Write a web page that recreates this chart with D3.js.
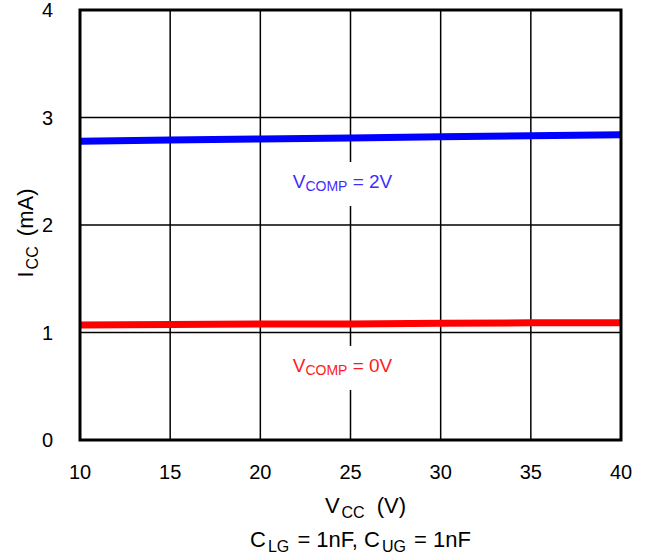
<!DOCTYPE html>
<html>
<head>
<meta charset="utf-8">
<script src="https://cdn.jsdelivr.net/npm/d3@7"></script>
<style>
  body { margin: 0; background: #fff; }
  text { font-family: "Liberation Sans", Arial, sans-serif; }
</style>
</head>
<body>
<script>
// values
var vcc = [10, 15, 20, 25, 30, 35, 40]
var iccComp2 = [2.78, 2.79, 2.80, 2.81, 2.82, 2.83, 2.84]
var iccComp0 = [1.07, 1.075, 1.08, 1.08, 1.085, 1.09, 1.09]
var xTicks = [10, 15, 20, 25, 30, 35, 40]
var yTicks = [0, 1, 2, 3, 4]

var W = 647, H = 559
var margin = {top: 10, right: 26, bottom: 119, left: 80}
var width = W - margin.left - margin.right,
    height = H - margin.top - margin.bottom

var svg = d3.select("body").append("svg")
  .attr("width", W).attr("height", H)

var g = svg.append("g")
  .attr("transform", "translate(" + margin.left + "," + margin.top + ")")

var x = d3.scaleLinear().domain([10, 40]).range([0, width])
var y = d3.scaleLinear().domain([0, 4]).range([height, 0])

// grid
g.append("g").selectAll("line").data(xTicks.slice(1, -1)).join("line")
  .attr("x1", d => x(d)).attr("x2", d => x(d))
  .attr("y1", 0).attr("y2", height)
  .attr("stroke", "#000").attr("stroke-width", 1.5)
g.append("g").selectAll("line").data(yTicks.slice(1, -1)).join("line")
  .attr("x1", 0).attr("x2", width)
  .attr("y1", d => y(d)).attr("y2", d => y(d))
  .attr("stroke", "#000").attr("stroke-width", 1.5)

// label backgrounds cover the grid
var labels = [
  {text: "COMP", val: 2, yv: 2.344, color: "#3f2bff"},
  {text: "COMP", val: 0, yv: 0.633, color: "#ff1a1a"}
]
labels.forEach(function(l) {
  g.append("rect")
    .attr("x", x(25) - 66).attr("y", y(l.yv) - 26)
    .attr("width", 132).attr("height", 44)
    .attr("fill", "#fff")
})

// series
var line = d3.line().x((d, i) => x(vcc[i])).y(d => y(d))
g.append("path").attr("d", line(iccComp2))
  .attr("fill", "none").attr("stroke", "#0000ff").attr("stroke-width", 7)
g.append("path").attr("d", line(iccComp0))
  .attr("fill", "none").attr("stroke", "#ff0000").attr("stroke-width", 7)

labels.forEach(function(l) {
  var t = g.append("text")
    .attr("x", x(25) - 8).attr("y", y(l.yv))
    .attr("text-anchor", "middle")
    .attr("fill", l.color).attr("font-size", 19)
  t.append("tspan").text("V")
  t.append("tspan").attr("font-size", 14).attr("dy", 3).text(l.text)
  t.append("tspan").attr("dy", -3).text(" = " + l.val + "V")
})

// frame
g.append("rect").attr("x", 0).attr("y", 0)
  .attr("width", width).attr("height", height)
  .attr("fill", "none").attr("stroke", "#000").attr("stroke-width", 3)

// tick labels
g.append("g").selectAll("text").data(xTicks).join("text")
  .attr("x", d => x(d)).attr("y", height + 39)
  .attr("text-anchor", "middle").attr("font-size", 20)
  .text(d => d)
g.append("g").selectAll("text").data(yTicks).join("text")
  .attr("x", -27).attr("y", d => y(d) + 7)
  .attr("text-anchor", "end").attr("font-size", 20)
  .text(d => d)

// axis titles
var xt = svg.append("text")
  .attr("x", margin.left + width / 2 + 15).attr("y", 513)
  .attr("text-anchor", "middle").attr("font-size", 22)
xt.append("tspan").text("V")
xt.append("tspan").attr("font-size", 16).attr("dx", 2).attr("dy", 5).text("CC")
xt.append("tspan").attr("dx", 6).attr("dy", -5).text(" (V)")

var st = svg.append("text")
  .attr("x", margin.left + width / 2 + 10).attr("y", 547)
  .attr("text-anchor", "middle").attr("font-size", 22)
st.append("tspan").text("C")
st.append("tspan").attr("font-size", 16).attr("dx", 2).attr("dy", 5).text("LG")
st.append("tspan").attr("dx", 2).attr("dy", -5).text(" = 1nF, C")
st.append("tspan").attr("font-size", 16).attr("dx", 2).attr("dy", 5).text("UG")
st.append("tspan").attr("dx", 2).attr("dy", -5).text(" = 1nF")

var yt = svg.append("text")
  .attr("transform", "translate(33," + (margin.top + height / 2 + 8) + ") rotate(-90)")
  .attr("text-anchor", "middle").attr("font-size", 22)
yt.append("tspan").text("I")
yt.append("tspan").attr("font-size", 16).attr("dx", 2).attr("dy", 5).text("CC")
yt.append("tspan").attr("dx", 4).attr("dy", -5).text(" (mA)")
</script>
</body>
</html>
